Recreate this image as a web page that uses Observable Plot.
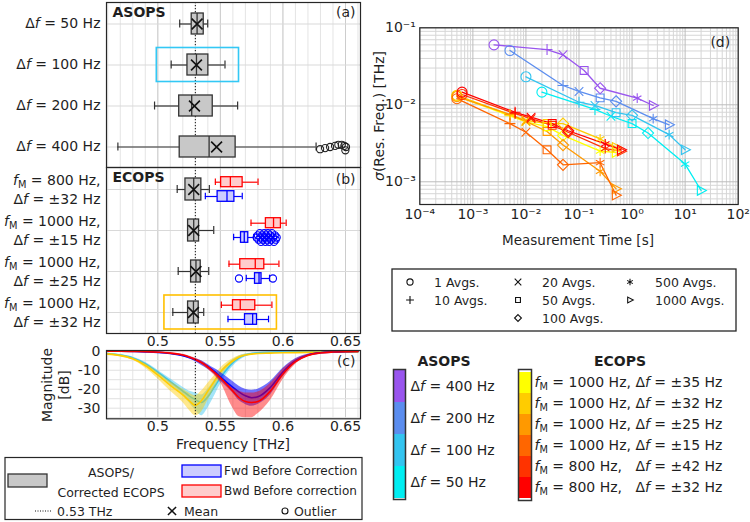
<!DOCTYPE html>
<html><head><meta charset="utf-8">
<script src="https://cdn.jsdelivr.net/npm/d3@7"></script>
<script src="https://cdn.jsdelivr.net/npm/@observablehq/plot@0.6"></script>
<style>
body{margin:0;background:#fff;}
#root{position:relative;width:750px;height:522px;overflow:hidden;background:#fff;font-family:"DejaVu Sans",Verdana,sans-serif;color:#1f1f1f;}
#root > svg{position:absolute;}
#root text,#root tspan{white-space:pre;}
</style></head><body><div id="root"></div>
<script>
// ================= DATA =================
const freqTicks = [0.5, 0.55, 0.6, 0.65];

// (a) ASOPS box statistics [THz]
const asopsCats = ["Δf = 50 Hz", "Δf = 100 Hz", "Δf = 200 Hz", "Δf = 400 Hz"];
const asopsLo   = [0.5175, 0.5107, 0.4974, 0.4681];
const asopsQ1   = [0.5271, 0.5237, 0.5171, 0.5175];
const asopsMed  = [0.5314, 0.5309, 0.5271, 0.5410];
const asopsQ3   = [0.5367, 0.5404, 0.5439, 0.5622];
const asopsHi   = [0.5399, 0.5537, 0.5638, 0.6265];
const asopsMean = [0.5314, 0.5309, 0.5293, 0.5470];
const asopsOutF = [0.6297, 0.6337, 0.6377, 0.6417, 0.6443, 0.6470, 0.6491, 0.6504, 0.6499];
const asopsOutJ = [1, 0.5, 0, -0.5, -1, -1, -0.5, 0, 1.5];
const asopsHighlight = {cat: "Δf = 100 Hz", x1: 0.4992, x2: 0.5649};

// (b) ECOPS box statistics [THz]
const ecopsL1 = ["f_M = 800 Hz,", "f_M = 1000 Hz,", "f_M = 1000 Hz,", "f_M = 1000 Hz,"];
const ecopsL2 = ["Δf = ±32 Hz", "Δf = ±15 Hz", "Δf = ±25 Hz", "Δf = ±32 Hz"];
const corrLo   = [0.5155, 0.5240, 0.5163, 0.5120];
const corrQ1   = [0.5221, 0.5242, 0.5266, 0.5242];
const corrMed  = [0.5287, 0.5287, 0.5305, 0.5285];
const corrQ3   = [0.5348, 0.5330, 0.5343, 0.5327];
const corrHi   = [0.5412, 0.5447, 0.5407, 0.5367];
const corrMean = [0.5287, 0.5287, 0.5305, 0.5285];
const bwdLo  = [0.5460, 0.5745, 0.5569, 0.5508];
const bwdQ1  = [0.5506, 0.5864, 0.5659, 0.5601];
const bwdMed = [0.5580, 0.5925, 0.5779, 0.5659];
const bwdQ3  = [0.5678, 0.5984, 0.5851, 0.5779];
const bwdHi  = [0.5801, 0.6026, 0.5968, 0.5912];
const fwdLo  = [0.5380, 0.5606, 0.5707, 0.5561];
const fwdQ1  = [0.5478, 0.5665, 0.5777, 0.5697];
const fwdMed = [0.5553, 0.5691, 0.5809, 0.5758];
const fwdQ3  = [0.5612, 0.5723, 0.5829, 0.5793];
const fwdHi  = [0.5675, 0.5766, 0.5893, 0.5885];
// fwd outliers: group index, value, jitter level
const fwdOutG = [1,1,1,1,1,1,1,1,1,1,1,1,1,1,1,1,1,1,1,1,1,1,1,1,2,2];
const fwdOutF = [0.5790,0.5800,0.5805,0.5815,0.5820,0.5825,0.5835,0.5840,0.5850,0.5852,0.5860,0.5865,
                 0.5872,0.5880,0.5885,0.5890,0.5898,0.5905,0.5912,0.5920,0.5928,0.5935,0.5942,0.5950,
                 0.5649,0.5920];
const fwdOutJ = [0,-1,1,-2,0,2,-1,1,-2,0,2,-1,1,-2,0,2,-1,1,-2,0,2,-1,1,0,0,0];
const ecopsHighlight = {g: 3, x1: 0.5053, x2: 0.5952};

// (c) transmission spectra [dB]
const specFreq = [0.46,0.47,0.48,0.49,0.50,0.51,0.52,0.525,0.53,0.535,0.54,0.545,0.55,0.56,0.565,0.57,0.575,0.58,0.59,0.60,0.61,0.62,0.63,0.64,0.65,0.66];
const cyanMid = [-1.2,-2,-3.5,-6.5,-11,-16,-21,-23.5,-25.5,-27,-24,-19,-14,-6,-3.5,-2,-1.2,-0.8,-0.5,-0.4,-0.3,-0.3,-0.2,-0.2,-0.2,-0.2];
const cyanHi  = [-1,-1.7,-3,-5.8,-10,-14.5,-19,-21,-22,-23,-20,-15.5,-11,-4.5,-2.5,-1.5,-0.9,-0.6,-0.4,-0.3,-0.2,-0.2,-0.1,-0.1,-0.1,-0.1];
const cyanLo  = [-1.4,-2.3,-4,-7.3,-12,-17.5,-23,-27,-31,-34,-30,-24,-17.5,-8,-5,-3,-1.8,-1.2,-0.8,-0.6,-0.5,-0.4,-0.3,-0.3,-0.3,-0.3];
const yelMid  = [-1.5,-2.3,-4,-7.5,-12.5,-18,-23,-26,-28.5,-26,-21,-16,-11,-5,-3,-2,-1.5,-1.2,-1,-0.8,-0.7,-0.6,-0.5,-0.4,-0.3,-0.3];
const yelHi   = [-1.2,-1.9,-3.5,-6.5,-11,-16,-20,-22,-23.5,-21,-17,-13,-9,-4,-2.4,-1.6,-1.2,-1,-0.8,-0.6,-0.5,-0.4,-0.3,-0.3,-0.2,-0.2];
const yelLo   = [-1.8,-2.8,-4.8,-8.8,-14.5,-21,-27,-31,-34,-32,-26,-20,-14,-6.5,-4,-2.6,-1.9,-1.5,-1.2,-1,-0.9,-0.8,-0.7,-0.5,-0.4,-0.4];
const fwdMid  = [0,0,-0.1,-0.3,-0.6,-1.2,-2.3,-3.3,-4.5,-6,-8,-10.5,-13.5,-19,-21.5,-23.5,-24.5,-24,-19,-11,-5,-2,-0.8,-0.4,-0.2,-0.1];
const fwdHiC  = [0.1,0.1,0,-0.2,-0.4,-0.9,-1.8,-2.7,-3.8,-5,-7,-9,-11,-16,-18.5,-20,-20.5,-20,-16,-9,-4,-1.6,-0.6,-0.3,-0.1,0];
const fwdLoC  = [-0.1,-0.2,-0.3,-0.5,-0.9,-1.6,-2.8,-4,-5.5,-7.5,-9.5,-12,-15.5,-22,-26,-28,-29,-28,-23,-13.5,-6.5,-2.6,-1.1,-0.6,-0.3,-0.2];
const bwdMid  = [0,0,-0.1,-0.2,-0.5,-1,-2,-3,-4.3,-6,-8.3,-11,-14,-21,-24.5,-26.5,-27,-26.5,-21,-12,-5.5,-2.2,-0.9,-0.4,-0.2,-0.1];
const bwdHiC  = [0.1,0.1,0,-0.1,-0.3,-0.7,-1.6,-2.5,-3.7,-5.2,-7.5,-10.5,-13.5,-19.5,-21,-22,-22,-21.5,-17,-9.5,-4.3,-1.7,-0.6,-0.2,-0.1,0];
const bwdLoC  = [-0.1,-0.2,-0.3,-0.4,-0.8,-1.4,-2.5,-3.6,-5,-7,-9.5,-12.5,-16.5,-30,-34.5,-35,-35,-33,-26,-15,-7,-2.8,-1.2,-0.6,-0.3,-0.2];

// (d) resolution vs measurement time
const avgsList = [1, 10, 20, 50, 100, 500, 1000];
const asopsNames  = ["Δf = 400 Hz", "Δf = 200 Hz", "Δf = 100 Hz", "Δf = 50 Hz"];
const asopsColors = ["#9955ee", "#5b8def", "#33c4f0", "#00eef2"];
const asopsTimes = [
  [0.0025, 0.025, 0.05, 0.125, 0.25, 1.25, 2.5],
  [0.005, 0.05, 0.1, 0.25, 0.5, 2.5, 5],
  [0.01, 0.1, 0.2, 0.5, 1, 5, 10],
  [0.02, 0.2, 0.4, 1, 2, 10, 20]];
const asopsSigma = [
  [0.0601, 0.0522, 0.0446, 0.0279, 0.0164, 0.0122, 0.0098],
  [0.0507, 0.0178, 0.0149, 0.0123, 0.0111, 0.0066, 0.0055],
  [0.0231, 0.0108, 0.0098, 0.0079, 0.0073, 0.0041, 0.0026],
  [0.0146, 0.0087, 0.0071, 0.0057, 0.0043, 0.0017, 0.00077]];
const ecopsNames = ["f_M = 1000 Hz, Δf = ±35 Hz", "f_M = 1000 Hz, Δf = ±32 Hz", "f_M = 1000 Hz, Δf = ±25 Hz",
                    "f_M = 1000 Hz, Δf = ±15 Hz", "f_M = 800 Hz,   Δf = ±42 Hz", "f_M = 800 Hz,   Δf = ±32 Hz"];
const ecopsColors = ["#ffff00", "#ffcc00", "#ff9900", "#ff6600", "#ff3300", "#ff0000"];
const ecopsTimes = [
  [0.0005, 0.005, 0.01, 0.025, 0.05, 0.25, 0.5],
  [0.0005, 0.005, 0.01, 0.025, 0.05, 0.25, 0.5],
  [0.0005, 0.005, 0.01, 0.025, 0.05, 0.25, 0.5],
  [0.0005, 0.005, 0.01, 0.025, 0.05, 0.25, 0.5],
  [0.000625, 0.00625, 0.0125, 0.03125, 0.0625, 0.3125, 0.625],
  [0.000625, 0.00625, 0.0125, 0.03125, 0.0625, 0.3125, 0.625]];
const ecopsSigma = [
  [0.0130, 0.0072, 0.0060, 0.0052, 0.0040, 0.0025, 0.0024],
  [0.0133, 0.0074, 0.0063, 0.0057, 0.0057, 0.0036, 0.0028],
  [0.0128, 0.0075, 0.0061, 0.0045, 0.0030, 0.00137, 0.00081],
  [0.0120, 0.0057, 0.0044, 0.0026, 0.00166, 0.00177, 0.00067],
  [0.0136, 0.0077, 0.0066, 0.0054, 0.0044, 0.0027, 0.0025],
  [0.0146, 0.0080, 0.0069, 0.0057, 0.0046, 0.0031, 0.0026]];

// ================= RENDER =================
const FONT = '"DejaVu Sans", Verdana, sans-serif';
const baseStyle = {fontFamily: FONT, fontSize: "14px", background: "transparent", color: "#1f1f1f", overflow: "visible"};
const root = document.getElementById("root");
function place(svg, left, top) { svg.style.left = left + "px"; svg.style.top = top + "px"; root.appendChild(svg); }
const fmtF = d => String(+d.toFixed(3));
const xDomainF = [0.459, 0.662];
const minorF = d3.ticks(0.46, 0.66, 20);

const triRight = {draw(ctx, size) { const r = Math.sqrt(size / Math.PI);
  ctx.moveTo(r * 1.05, 0); ctx.lineTo(-r * 0.75, -r * 0.95); ctx.lineTo(-r * 0.75, r * 0.95); ctx.closePath(); }};
const symOf = {1: d3.symbolCircle, 10: d3.symbolPlus, 20: d3.symbolTimes, 50: d3.symbolSquare2,
               100: d3.symbolDiamond2, 500: d3.symbolAsterisk, 1000: triRight};
const rOf = {1: 5, 10: 3.6, 20: 4, 50: 5, 100: 5, 500: 4.6, 1000: 5};

function boxMarks(rows, o) {
  const sw = 1.2;
  return [
    Plot.ruleY(rows, {y: "cat", x1: "lo", x2: "q1", stroke: o.stroke, strokeWidth: sw, dy: o.dy}),
    Plot.ruleY(rows, {y: "cat", x1: "q3", x2: "hi", stroke: o.stroke, strokeWidth: sw, dy: o.dy}),
    Plot.tickX(rows, {x: "lo", y: "cat", stroke: o.stroke, strokeWidth: sw, insetTop: o.capTop, insetBottom: o.capBottom}),
    Plot.tickX(rows, {x: "hi", y: "cat", stroke: o.stroke, strokeWidth: sw, insetTop: o.capTop, insetBottom: o.capBottom}),
    Plot.barX(rows, {y: "cat", x1: "q1", x2: "q3", fill: o.fill, stroke: o.stroke, strokeWidth: 1.3, insetTop: o.boxTop, insetBottom: o.boxBottom}),
    Plot.tickX(rows, {x: "med", y: "cat", stroke: o.stroke, strokeWidth: 1.3, insetTop: o.boxTop, insetBottom: o.boxBottom})
  ];
}
function outlierMarks(rows, stroke, baseDy) {
  const levels = Array.from(new Set(rows.map(d => d.j)));
  return levels.map(j => Plot.dot(rows.filter(d => d.j === j),
    {x: "f", y: "cat", r: 3.6, symbol: d3.symbolCircle, stroke, fill: "none", strokeWidth: 1.1, dy: baseDy + j * 2.2}));
}
function freqGrid() {
  return [Plot.ruleX(minorF, {stroke: "#e4e4e4"}), Plot.ruleX(freqTicks, {stroke: "#cdcdcd"})];
}

// ---- panel (a)
const asopsBoxes = asopsCats.map((cat, i) => ({cat, lo: asopsLo[i], q1: asopsQ1[i], med: asopsMed[i], q3: asopsQ3[i], hi: asopsHi[i], mean: asopsMean[i]}));
const asopsOut = asopsOutF.map((f, i) => ({cat: "Δf = 400 Hz", f, j: asopsOutJ[i]}));
const plotA = Plot.plot({
  width: 362, height: 168, marginLeft: 106, marginRight: 2, marginTop: 2, marginBottom: 1,
  style: baseStyle,
  x: {domain: xDomainF, axis: null},
  y: {type: "band", domain: asopsCats, paddingInner: 0.49, paddingOuter: 0.245, axis: null},
  marks: [
    ...freqGrid(),
    Plot.ruleY(asopsCats, {y: d => d, stroke: "#d9d9d9"}),
    Plot.ruleX([0.53], {stroke: "#111", strokeDasharray: "1.2,1.8"}),
    ...boxMarks(asopsBoxes, {stroke: "#333", fill: "#c8c8c8", dy: 0, capTop: 6.5, capBottom: 6.5, boxTop: 0, boxBottom: 0}),
    Plot.dot(asopsBoxes, {x: "mean", y: "cat", symbol: d3.symbolTimes, r: 5, stroke: "#111", strokeWidth: 1.6}),
    ...outlierMarks(asopsOut, "#222", 0),
    Plot.barX([asopsHighlight], {y: "cat", x1: "x1", x2: "x2", fill: "none", stroke: "#33c8f5", strokeWidth: 1.6, insetTop: -6.5, insetBottom: -6.5}),
    Plot.text(asopsCats, {y: d => d, text: d => d, frameAnchor: "left", textAnchor: "end", dx: -6}),
    Plot.text(["ASOPS"], {text: d => d, frameAnchor: "top-left", lineAnchor: "top", dx: 6, dy: 5, fontWeight: "bold"}),
    Plot.text(["(a)"], {text: d => d, frameAnchor: "top-right", lineAnchor: "top", textAnchor: "end", dx: -5, dy: 5}),
    Plot.frame({stroke: "#262626", strokeWidth: 1.2})
  ]
});
place(plotA, 0, 0);

// ---- panel (b)
const ecopsKeys = ecopsL1.map((l, i) => l + " " + ecopsL2[i]);
const mkRows = (lo, q1, med, q3, hi, mean) => ecopsKeys.map((cat, i) => ({cat, l1: ecopsL1[i], l2: ecopsL2[i], lo: lo[i], q1: q1[i], med: med[i], q3: q3[i], hi: hi[i], mean: mean ? mean[i] : null}));
const corrRows = mkRows(corrLo, corrQ1, corrMed, corrQ3, corrHi, corrMean);
const bwdRows = mkRows(bwdLo, bwdQ1, bwdMed, bwdQ3, bwdHi);
const fwdRows = mkRows(fwdLo, fwdQ1, fwdMed, fwdQ3, fwdHi);
const fwdOut = fwdOutF.map((f, i) => ({cat: ecopsKeys[fwdOutG[i]], f, j: fwdOutJ[i]}));
const plotB = Plot.plot({
  width: 362, height: 184, marginLeft: 106, marginRight: 2, marginTop: 1, marginBottom: 17,
  style: baseStyle,
  x: {domain: xDomainF, ticks: freqTicks, tickFormat: fmtF, tickSize: 0, tickPadding: 3, label: null},
  y: {type: "band", domain: ecopsKeys, paddingInner: 0.47, paddingOuter: 0.235, axis: null},
  marks: [
    ...freqGrid(),
    Plot.ruleY(ecopsKeys, {y: d => d, stroke: "#d9d9d9"}),
    Plot.ruleX([0.53], {stroke: "#111", strokeDasharray: "1.2,1.8"}),
    ...boxMarks(corrRows, {stroke: "#333", fill: "#c8c8c8", dy: 0, capTop: 7, capBottom: 7, boxTop: 0, boxBottom: 0}),
    Plot.dot(corrRows, {x: "mean", y: "cat", symbol: d3.symbolTimes, r: 5, stroke: "#111", strokeWidth: 1.6}),
    ...boxMarks(bwdRows, {stroke: "#ff0000", fill: "#ffcccc", dy: -7.3, capTop: 0.4, capBottom: 15, boxTop: -1.3, boxBottom: 13.3}),
    ...boxMarks(fwdRows, {stroke: "#0000ff", fill: "#ccccff", dy: 7, capTop: 14.7, capBottom: 0.7, boxTop: 12.7, boxBottom: -1.3}),
    ...outlierMarks(fwdOut, "#0000ff", 7),
    Plot.barX([{cat: ecopsKeys[ecopsHighlight.g], x1: ecopsHighlight.x1, x2: ecopsHighlight.x2}],
      {y: "cat", x1: "x1", x2: "x2", fill: "none", stroke: "#ffc000", strokeWidth: 1.6, insetTop: -6, insetBottom: -6}),
    Plot.text(corrRows, {y: "cat", text: "l1", frameAnchor: "left", textAnchor: "end", dx: -6, dy: -8.5}),
    Plot.text(corrRows, {y: "cat", text: "l2", frameAnchor: "left", textAnchor: "end", dx: -6, dy: 10.5}),
    Plot.text(["ECOPS"], {text: d => d, frameAnchor: "top-left", lineAnchor: "top", dx: 6, dy: 5, fontWeight: "bold"}),
    Plot.text(["(b)"], {text: d => d, frameAnchor: "top-right", lineAnchor: "top", textAnchor: "end", dx: -5, dy: 7}),
    Plot.frame({stroke: "#262626", strokeWidth: 1.2})
  ]
});
place(plotB, 0, 166);

// ---- panel (c)
function specMarks(lo, mid, hi, color, op) {
  const rows = specFreq.map((f, i) => ({f, lo: lo[i], mid: mid[i], hi: hi[i]}));
  return [
    Plot.areaY(rows, {x: "f", y1: "lo", y2: "hi", fill: color, fillOpacity: op, curve: "monotone-x"}),
    Plot.line(rows, {x: "f", y: "mid", stroke: color, strokeWidth: 1.6, curve: "monotone-x"})
  ];
}
const plotC = Plot.plot({
  width: 362, height: 104, marginLeft: 106, marginRight: 2, marginTop: 2, marginBottom: 33.7,
  style: baseStyle,
  x: {domain: xDomainF, ticks: freqTicks, tickFormat: fmtF, tickSize: 0, tickPadding: 2, label: null},
  y: {domain: [-35.6, 0.4], ticks: [0, -10, -20, -30], tickFormat: d => String(d), tickSize: 0, tickPadding: 6, label: null},
  marks: [
    ...freqGrid(),
    Plot.ruleY(d3.ticks(-35, 0, 7), {stroke: "#e0e0e0"}),
    ...specMarks(cyanLo, cyanMid, cyanHi, "#33c4f0", 0.45),
    ...specMarks(yelLo, yelMid, yelHi, "#ffcc00", 0.45),
    ...specMarks(fwdLoC, fwdMid, fwdHiC, "#0000ff", 0.55),
    ...specMarks(bwdLoC, bwdMid, bwdHiC, "#ff0000", 0.45),
    Plot.ruleX([0.53], {stroke: "#111", strokeDasharray: "1.2,1.8"}),
    Plot.text(["(c)"], {text: d => d, frameAnchor: "top-right", lineAnchor: "top", textAnchor: "end", dx: -5, dy: 6}),
    Plot.frame({stroke: "#262626", strokeWidth: 1.2})
  ]
});
place(plotC, 0, 348);

// ---- panel (d)
const supMap = {"-": "⁻", "0": "⁰", "1": "¹", "2": "²", "3": "³", "4": "⁴"};
const pow10 = d => "10" + String(Math.round(Math.log10(d))).split("").map(c => supMap[c]).join("");
const dRows = [];
asopsNames.forEach((n, k) => avgsList.forEach((a, i) => dRows.push({series: "A" + k, color: asopsColors[k], t: asopsTimes[k][i], s: asopsSigma[k][i], a})));
ecopsNames.forEach((n, k) => avgsList.forEach((a, i) => dRows.push({series: "E" + k, color: ecopsColors[k], t: ecopsTimes[k][i], s: ecopsSigma[k][i], a})));
const xDomD = [1e-4, 1e2], yDomD = [5.07e-4, 0.1];
const xGrid = d3.scaleLog().domain(xDomD).ticks();
const yGrid = d3.scaleLog().domain(yDomD).ticks();
const isDecade = v => Math.abs(Math.log10(v) - Math.round(Math.log10(v))) < 1e-9;
const plotD = Plot.plot({
  width: 380, height: 250, marginLeft: 49.3, marginRight: 12.3, marginTop: 27.3, marginBottom: 46,
  style: baseStyle,
  color: {type: "identity"},
  x: {type: "log", domain: xDomD, ticks: xGrid.filter(isDecade), tickFormat: pow10, tickSize: 0, tickPadding: 5, label: null},
  y: {type: "log", domain: yDomD, ticks: yGrid.filter(isDecade), tickFormat: pow10, tickSize: 0, tickPadding: 4, label: null},
  marks: [
    Plot.ruleX(xGrid.filter(v => !isDecade(v)), {stroke: "#d6d6d6"}),
    Plot.ruleY(yGrid.filter(v => !isDecade(v)), {stroke: "#d6d6d6"}),
    Plot.ruleX(xGrid.filter(isDecade), {stroke: "#bdbdbd"}),
    Plot.ruleY(yGrid.filter(isDecade), {stroke: "#bdbdbd"}),
    Plot.line(dRows, {x: "t", y: "s", z: "series", stroke: "color", strokeWidth: 1.3}),
    ...avgsList.map(a => Plot.dot(dRows.filter(d => d.a === a), {x: "t", y: "s", stroke: "color", fill: "none", symbol: symOf[a], r: rOf[a], strokeWidth: 1.1})),
    Plot.text(["(d)"], {text: d => d, frameAnchor: "top-right", lineAnchor: "top", textAnchor: "end", dx: -8, dy: 9}),
    Plot.frame({stroke: "#262626", strokeWidth: 1.2})
  ]
});
place(plotD, 370, 0);

// ---- colour bars
const asopsBar = asopsNames.map((n, i) => ({n, c: asopsColors[i]}));
const barA = Plot.plot({
  width: 135, height: 131, marginLeft: 13, marginRight: 110, marginTop: 0, marginBottom: 1,
  style: baseStyle, color: {type: "identity"},
  x: {type: "band", domain: ["bar"], padding: 0, axis: null},
  y: {type: "band", domain: asopsNames, padding: 0, axis: null},
  marks: [
    Plot.cell(asopsBar, {x: () => "bar", y: "n", fill: "c"}),
    Plot.frame({stroke: "#333", strokeWidth: 1.5}),
    Plot.text(asopsBar, {y: "n", text: "n", frameAnchor: "right", textAnchor: "start", dx: 5})
  ]
});
place(barA, 380, 369);
const ecopsBar = ecopsNames.map((n, i) => ({n, c: ecopsColors[i]}));
const barE = Plot.plot({
  width: 245, height: 132, marginLeft: 13, marginRight: 219, marginTop: 0, marginBottom: 1,
  style: baseStyle, color: {type: "identity"},
  x: {type: "band", domain: ["bar"], padding: 0, axis: null},
  y: {type: "band", domain: ecopsNames, padding: 0, axis: null},
  marks: [
    Plot.cell(ecopsBar, {x: () => "bar", y: "n", fill: "c"}),
    Plot.frame({stroke: "#333", strokeWidth: 1.5}),
    Plot.text(ecopsBar, {y: "n", text: "n", frameAnchor: "right", textAnchor: "start", dx: 3})
  ]
});
place(barE, 505, 369);

// ---- legends and axis titles (overlay)
const ov = d3.create("svg").attr("width", 750).attr("height", 522)
  .style("left", "0px").style("top", "0px").style("font-family", FONT).style("pointer-events", "none");
function txt(x, y, s, o = {}) {
  const t = ov.append("text").attr("x", o.rot ? 0 : x).attr("y", o.rot ? 0 : y).attr("dominant-baseline", "central")
    .attr("text-anchor", o.anchor || "start").attr("font-size", o.size || 12)
    .attr("font-weight", o.weight || "normal").attr("fill", "#1f1f1f").text(s);
  if (o.rot) t.attr("transform", `translate(${x},${y}) rotate(-90)`);
  return t;
}
txt(46.5, 385, "Magnitude", {anchor: "middle", size: 14, rot: true});
txt(64, 385, "[dB]", {anchor: "middle", size: 14, rot: true});
txt(233, 444, "Frequency [THz]", {anchor: "middle", size: 14});
txt(379, 116, "σ(Res. Freq.) [THz]", {anchor: "middle", size: 14, rot: true});
txt(578, 240, "Measurement Time [s]", {anchor: "middle", size: 13.5});
// bottom-left legend
ov.append("rect").attr("x", 5).attr("y", 457.5).attr("width", 357).attr("height", 62)
  .attr("fill", "white").attr("stroke", "#262626").attr("stroke-width", 1.2);
ov.append("rect").attr("x", 8).attr("y", 474).attr("width", 39).attr("height", 13).attr("fill", "#c8c8c8").attr("stroke", "#333").attr("stroke-width", 1.3);
txt(111, 472, "ASOPS/", {anchor: "middle", size: 12.5});
txt(111, 492, "Corrected ECOPS", {anchor: "middle", size: 12.5});
ov.append("rect").attr("x", 182).attr("y", 465).attr("width", 39).attr("height", 12).attr("fill", "#ccccff").attr("stroke", "#0000ff").attr("stroke-width", 1.3);
txt(224, 471, "Fwd Before Correction");
ov.append("rect").attr("x", 182).attr("y", 485).attr("width", 39).attr("height", 12).attr("fill", "#ffcccc").attr("stroke", "#ff0000").attr("stroke-width", 1.3);
txt(224, 491, "Bwd Before correction");
ov.append("line").attr("x1", 35).attr("x2", 52).attr("y1", 511).attr("y2", 511).attr("stroke", "#111").attr("stroke-dasharray", "1,1.5");
txt(57, 511, "0.53 THz", {size: 12.5});
ov.append("path").attr("transform", "translate(172,511)").attr("d", d3.symbol(d3.symbolTimes, 45)()).attr("fill", "none").attr("stroke", "#111").attr("stroke-width", 1.5);
txt(184, 511, "Mean", {size: 12.5});
ov.append("circle").attr("cx", 285).attr("cy", 511).attr("r", 3).attr("fill", "none").attr("stroke", "#111").attr("stroke-width", 1.1);
txt(294, 511, "Outlier", {size: 12.5});
// marker legend
ov.append("rect").attr("x", 392).attr("y", 269).attr("width", 344).attr("height", 62)
  .attr("fill", "white").attr("stroke", "#262626").attr("stroke-width", 1.3);
const legCol = [0, 0, 1, 1, 1, 2, 2], legRow = [0, 1, 0, 1, 2, 0, 1];
const colSym = [410, 518, 630], colTxt = [434, 542, 655], rowY = [282, 300, 318];
avgsList.forEach((a, i) => {
  ov.append("path").attr("transform", `translate(${colSym[legCol[i]]},${rowY[legRow[i]]})`)
    .attr("d", d3.symbol(symOf[a], a === 10 ? 22 : 30)()).attr("fill", "none").attr("stroke", "#111").attr("stroke-width", 1.1);
  txt(colTxt[legCol[i]], rowY[legRow[i]], a + " Avgs.", {size: 12.5});
});
// colour-bar titles
txt(444, 361, "ASOPS", {anchor: "middle", weight: "bold", size: 14});
txt(620, 361, "ECOPS", {anchor: "middle", weight: "bold", size: 14});
root.appendChild(ov.node());

// ---- rich text: italic f, subscript M, italic sigma
const NS = "http://www.w3.org/2000/svg";
function richify(t) {
  const s = t.textContent;
  if (!/(f_M|Δf|σ)/.test(s)) return;
  const parts = s.split(/(f_M|Δf|σ)/);
  while (t.firstChild) t.removeChild(t.firstChild);
  let pend = 0;
  const add = (str, o = {}) => {
    const sp = document.createElementNS(NS, "tspan");
    sp.textContent = str;
    if (o.italic) sp.setAttribute("font-style", "italic");
    if (o.size) sp.setAttribute("font-size", o.size);
    let dy = (o.dy || 0) + pend; pend = 0;
    if (dy) sp.setAttribute("dy", dy);
    t.appendChild(sp);
  };
  for (const p of parts) {
    if (!p) continue;
    if (p === "f_M") { add("f", {italic: true}); add("M", {size: "70%", dy: 3}); pend = -3; }
    else if (p === "Δf") { add("Δ"); add("f", {italic: true}); }
    else if (p === "σ") add("σ", {italic: true});
    else add(p);
  }
}
root.querySelectorAll("text").forEach(t => {
  const kids = Array.from(t.children).filter(c => c.tagName === "tspan");
  if (kids.length) kids.forEach(richify); else richify(t);
});
</script></body></html>
